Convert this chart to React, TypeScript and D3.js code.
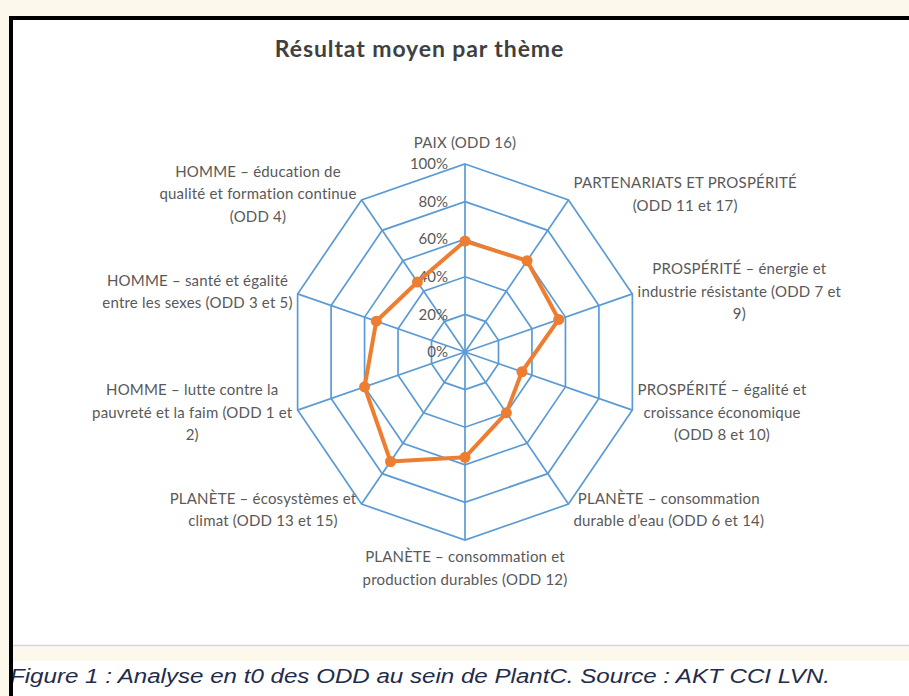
import React, { useEffect, useRef } from "react";
import * as d3 from "d3";

const categories: string[][] = [
  ["PAIX (ODD 16)"],
  ["PARTENARIATS ET PROSPÉRITÉ", "(ODD 11 et 17)"],
  ["PROSPÉRITÉ – énergie et", "industrie résistante (ODD 7 et", "9)"],
  ["PROSPÉRITÉ – égalité et", "croissance économique", "(ODD 8 et 10)"],
  ["PLANÈTE – consommation", "durable d’eau (ODD 6 et 14)"],
  ["PLANÈTE – consommation et", "production durables (ODD 12)"],
  ["PLANÈTE – écosystèmes et", "climat (ODD 13 et 15)"],
  ["HOMME – lutte contre la", "pauvreté et la faim (ODD 1 et", "2)"],
  ["HOMME – santé et égalité", "entre les sexes (ODD 3 et 5)"],
  ["HOMME – éducation de", "qualité et formation continue", "(ODD 4)"],
];

const values: number[] = [0.59, 0.6, 0.56, 0.34, 0.4, 0.56, 0.72, 0.6, 0.53, 0.46];

const ticks: number[] = [0, 0.2, 0.4, 0.6, 0.8, 1.0];
const tickLabels: string[] = ["0%", "20%", "40%", "60%", "80%", "100%"];

const title = "Résultat moyen par thème";
const caption = "Figure 1 : Analyse en t0 des ODD au sein de PlantC. Source : AKT CCI LVN.";

const W = 909;
const H = 696;
const CX = 465;
const CY = 352;
const BLUE = "#5b9bd5";
const ORANGE = "#ed7d31";
const GRAY = "#595959";
const FONT = "Lato, 'Open Sans', sans-serif";

export default function App() {
  const ref = useRef<SVGSVGElement>(null);

  useEffect(() => {
    document.body.style.margin = "0";
    const svg = d3.select(ref.current);
    svg.selectAll("*").remove();

    // backgrounds
    svg.append("rect").attr("x", 0).attr("y", 0).attr("width", W).attr("height", H).attr("fill", "#fdf8ec");
    svg.append("rect").attr("x", 13).attr("y", 20).attr("width", W - 13).attr("height", 625).attr("fill", "#ffffff");
    svg.append("rect").attr("x", 13).attr("y", 661).attr("width", W - 13).attr("height", H - 661).attr("fill", "#ffffff");
    svg.append("line").attr("x1", 13).attr("x2", W).attr("y1", 645.5).attr("y2", 645.5).attr("stroke", "#d6d6d6").attr("stroke-width", 1.5);

    const rx = d3.scaleLinear().domain([0, 1]).range([0, 176]);
    const ry = d3.scaleLinear().domain([0, 1]).range([0, 188]);
    const n = categories.length;
    const angle = d3.scaleLinear().domain([0, n]).range([0, 2 * Math.PI]);
    const px = (i: number, v: number) => CX + rx(v) * Math.sin(angle(i));
    const py = (i: number, v: number) => CY - ry(v) * Math.cos(angle(i));

    const g = svg.append("g");

    // rings
    ticks.slice(1).forEach((t) => {
      const pts: [number, number][] = d3.range(n).map((i) => [px(i, t), py(i, t)]);
      g.append("path")
        .attr("d", d3.line().curve(d3.curveLinearClosed)(pts))
        .attr("fill", "none")
        .attr("stroke", BLUE)
        .attr("stroke-width", 1.7);
    });
    // spokes
    d3.range(n).forEach((i) => {
      g.append("line")
        .attr("x1", CX).attr("y1", CY)
        .attr("x2", px(i, 1)).attr("y2", py(i, 1))
        .attr("stroke", BLUE).attr("stroke-width", 1.7);
    });

    // tick labels
    ticks.forEach((t, k) => {
      g.append("text")
        .attr("x", CX - 17)
        .attr("y", py(0, t))
        .attr("dy", "0.35em")
        .attr("text-anchor", "end")
        .attr("font-family", FONT)
        .attr("font-size", 15)
        .attr("fill", GRAY)
        .text(tickLabels[k]);
    });

    // series
    const sPts: [number, number][] = values.map((v, i) => [px(i, v), py(i, v)]);
    g.append("path")
      .attr("d", d3.line().curve(d3.curveLinearClosed)(sPts))
      .attr("fill", "none")
      .attr("stroke", ORANGE)
      .attr("stroke-width", 4)
      .attr("stroke-linejoin", "round");
    g.selectAll("circle.pt")
      .data(sPts)
      .enter()
      .append("circle")
      .attr("cx", (d) => d[0])
      .attr("cy", (d) => d[1])
      .attr("r", 5.5)
      .attr("fill", ORANGE);

    // category labels
    const LH = 22.5;
    categories.forEach((lines, i) => {
      const a = angle(i);
      const vx = px(i, 1);
      const vy = py(i, 1);
      const lg = g.append("g");
      lines.forEach((ln, j) => {
        lg.append("text")
          .attr("x", 0)
          .attr("y", j * LH)
          .attr("dy", "0.35em")
          .attr("text-anchor", "middle")
          .attr("font-family", FONT)
          .attr("font-size", 15)
          .attr("letter-spacing", 0.2)
          .attr("fill", GRAY)
          .text(ln);
      });
      const bb = (lg.node() as SVGGElement).getBBox();
      const blockH = (lines.length - 1) * LH;
      const s = Math.sin(a);
      const c = Math.cos(a);
      let tx = vx;
      let ty = vy;
      if (Math.abs(s) < 0.01) {
        tx = vx;
        if (c > 0) ty = vy - 21 - blockH;
        else ty = vy + 17;
      } else {
        const half = bb.width / 2;
        tx = s > 0 ? vx + 5 + half : vx - 5 - half;
        ty = vy - 7 * c - blockH / 2;
      }
      lg.attr("transform", `translate(${tx},${ty})`);
    });

    // title
    svg.append("text")
      .attr("x", 419.5)
      .attr("y", 57)
      .attr("text-anchor", "middle")
      .attr("font-family", FONT)
      .attr("font-weight", "bold")
      .attr("font-size", 23)
      .attr("letter-spacing", 0.9)
      .attr("fill", "#404040")
      .text(title);

    // caption
    svg.append("text")
      .attr("x", 10)
      .attr("y", 683)
      .attr("font-family", "'Liberation Sans', Arial, sans-serif")
      .attr("font-style", "italic")
      .attr("font-size", 19.5)
      .attr("fill", "#1f2d4a")
      .attr("textLength", 820)
      .attr("lengthAdjust", "spacingAndGlyphs")
      .text(caption);

    // black border (top and left)
    svg.append("rect").attr("x", 9).attr("y", 16).attr("width", W - 9).attr("height", 4).attr("fill", "#000");
    svg.append("rect").attr("x", 9).attr("y", 16).attr("width", 4).attr("height", H - 16).attr("fill", "#000");
  }, []);

  return (
    <svg
      ref={ref}
      width={W}
      height={H}
      style={{ position: "absolute", left: 0, top: 0, display: "block" }}
    />
  );
}
